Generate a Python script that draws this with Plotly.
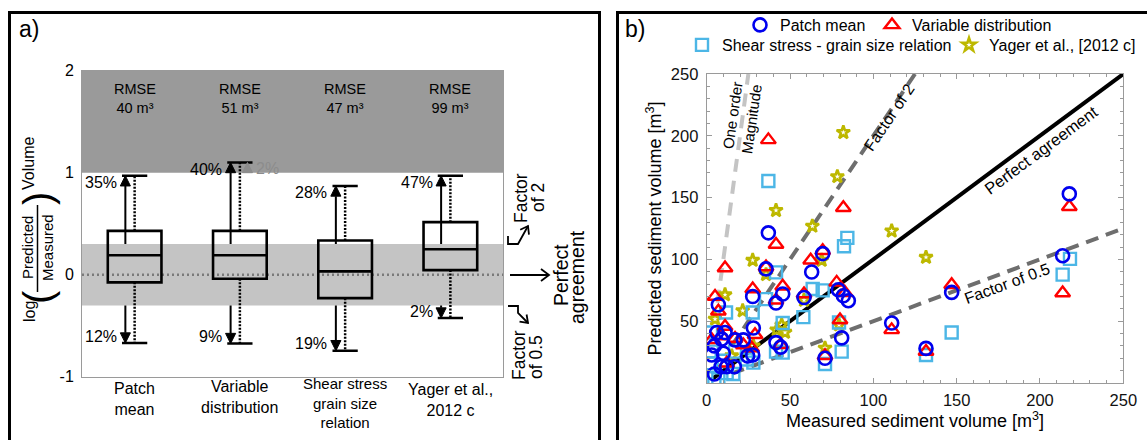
import plotly.graph_objects as go

W, H = 1147, 440
def PX(px): return px / W
def PY(py): return 1 - py / H

FONT = "Arial, Liberation Sans, sans-serif"

# ---------------- Panel a data ----------------
cat_pos = [0, 1, 2, 3]
cat_labels = ["Patch<br>mean", "Variable<br>distribution", "Shear stress<br>grain size<br>relation",
              "Yager et al.,<br>2012 c"]
cat_label_py = [399, 397, 403, 400]
cat_label_size = [16, 16, 15, 16]
rmse = [40, 51, 47, 99]
q1 = [-0.075, -0.04, -0.23, 0.045]
median = [0.19, 0.19, 0.033, 0.25]
q3 = [0.43, 0.43, 0.335, 0.515]
lower_fence = [-0.67, -0.675, -0.745, -0.425]
upper_fence = [0.97, 1.10, 0.87, 0.97]
pct_above_2 = ["35%", "40%", "28%", "47%"]
pct_below_half = ["12%", "9%", "19%", "2%"]
pct_above_10 = [None, "2%", None, None]
log2 = 0.30103

# ---------------- Panel b data ----------------
patch_x = [37, 79, 82, 85, 81, 111, 131.6, 147, 217.6, 213.6, 69.6, 63, 35.6, 45.6, 41.6, 27.6, 58.4, 7, 71,
           41.6, 44.4, 28, 27.6, 24.6, 6, 11, 9, 4.6, 3, 17, 22, 10, 8.6, 12, 16.6, 4.6]
patch_y = [121.5, 75.5, 70.6, 66.6, 36.5, 48.5, 28, 73.3, 153, 103, 104.7, 89.8, 92.3, 72, 64.7, 70, 69.2, 63.3, 20,
           32.7, 29, 44.5, 22.7, 21.9, 40.8, 40.8, 35.5, 30, 22.7, 34.9, 34.9, 24.1, 13.2, 13.2, 13.2, 7.3]
var_x = [37, 41.6, 82, 80, 111, 131.6, 147, 217.6, 213.6, 11, 62.4, 35.6, 78, 45.6, 27.6, 5, 7, 69.6, 3, 11,
         22, 27, 29, 71, 44.4, 83, 58.4, 41.6, 17, 9, 12]
var_y = [196.7, 112, 141.8, 51, 43, 25.5, 79.5, 142.6, 72.8, 93, 99.3, 93.9, 81.4, 78.2, 76, 70, 58, 107, 35, 45.7,
         30.8, 28.2, 39, 22, 31, 73, 72, 67, 36, 38, 16]
shear_x = [37, 84.4, 82.4, 81, 79.4, 131.6, 147, 218, 213.6, 41.6, 63.6, 69.6, 35.6, 11.6, 27.6, 58, 71, 45.6,
           41.6, 45.6, 28, 3, 3, 4.6, 7, 16, 17, 2.6, 9, 12, 24]
shear_y = [163.4, 117.4, 110.6, 25.4, 49, 22.7, 40.8, 100.4, 87.7, 89.5, 76, 74.9, 67.9, 57, 57, 53.3, 15.4, 48.5,
           25.4, 24.6, 16.5, 25.4, 16, 3.8, 3, 7.3, 25.4, 40.8, 18, 8, 19]
yager_x = [82, 78.4, 41.6, 63.4, 111, 131.6, 27.6, 69, 35.6, 11, 21.6, 5, 71, 45, 42, 47, 58.4, 79.4, 28, 15]
yager_y = [202.7, 167, 139.6, 126.9, 123, 101.7, 99.3, 99.3, 87.7, 71.4, 58.5, 51.7, 28.2, 47, 43, 41, 67, 47, 30, 22]

ref_ratio = [10, 2, 1, 0.5]
ref_xstart = [6.5, 15, 3, 15]
ref_xend = [25, 125, 250, 250]
ref_color = ["#c4c4c4", "#6e6e6e", "#000000", "#6e6e6e"]
ref_dash = ["13px,9px", "13px,8px", "solid", "13px,8px"]

fig = go.Figure()

# ---------------- Panel a traces ----------------
fig.add_trace(go.Box(
    x=cat_pos, q1=q1, median=median, q3=q3, lowerfence=q1, upperfence=q3,
    width=0.51, whiskerwidth=0, fillcolor="rgba(0,0,0,0)",
    line=dict(color="black", width=2.6), xaxis="x", yaxis="y", showlegend=False,
    boxpoints=False, hoverinfo="skip"))

wx, wy, cx_, cy_ = [], [], [], []
for i, c in enumerate(cat_pos):
    wx += [c, c, None, c, c, None]
    wy += [q3[i], upper_fence[i], None, q1[i], lower_fence[i], None]
    cx_ += [c - 0.12, c + 0.12, None, c - 0.12, c + 0.12, None]
    cy_ += [upper_fence[i], upper_fence[i], None, lower_fence[i], lower_fence[i], None]
fig.add_trace(go.Scatter(x=wx, y=wy, mode="lines", line=dict(color="black", width=2.5, dash="2px,1.5px"),
                         xaxis="x", yaxis="y", showlegend=False, hoverinfo="skip"))
fig.add_trace(go.Scatter(x=cx_, y=cy_, mode="lines", line=dict(color="black", width=2.5),
                         xaxis="x", yaxis="y", showlegend=False, hoverinfo="skip"))

# ---------------- Panel b traces ----------------
for r, xs, xe, col, dash in zip(ref_ratio, ref_xstart, ref_xend, ref_color, ref_dash):
    fig.add_trace(go.Scatter(x=[xs, xe], y=[r * xs, r * xe], mode="lines",
                             line=dict(color=col, width=4, dash=dash),
                             xaxis="x2", yaxis="y2", showlegend=False, hoverinfo="skip"))

fig.add_trace(go.Scatter(x=yager_x, y=yager_y, mode="markers", name="Yager et al., [2012 c]",
                         marker=dict(symbol="star-open", size=10, color="#bdb800", line=dict(width=2.6)),
                         xaxis="x2", yaxis="y2", legend="legend2", legendrank=2, legendwidth=160))
fig.add_trace(go.Scatter(x=shear_x, y=shear_y, mode="markers", name="Shear stress - grain size relation",
                         marker=dict(symbol="square-open", size=12, color="#4cb6e6", line=dict(width=2.4)),
                         xaxis="x2", yaxis="y2", legend="legend2", legendrank=1, legendwidth=222))
fig.add_trace(go.Scatter(x=var_x, y=var_y, mode="markers", name="Variable distribution",
                         marker=dict(symbol="triangle-up-open", size=13, color="#ff0000", line=dict(width=2.4)),
                         xaxis="x2", yaxis="y2", legend="legend", legendrank=2, legendwidth=150))
fig.add_trace(go.Scatter(x=patch_x, y=patch_y, mode="markers", name="Patch mean",
                         marker=dict(symbol="circle-open", size=13, color="#0000ee", line=dict(width=2.6)),
                         xaxis="x2", yaxis="y2", legend="legend", legendrank=1, legendwidth=87))

shapes = []
# bands in panel a
shapes.append(dict(type="rect", xref="x domain", yref="y", x0=0, x1=1, y0=1, y1=2,
                   fillcolor="#9a9a9a", line=dict(width=0), layer="below"))
shapes.append(dict(type="rect", xref="x domain", yref="y", x0=0, x1=1, y0=-log2, y1=log2,
                   fillcolor="#c4c4c4", line=dict(width=0), layer="below"))
shapes.append(dict(type="line", xref="x domain", yref="y", x0=0, x1=1, y0=0, y1=0,
                   line=dict(color="#7a7a7a", width=2.5, dash="2px,3px"), layer="below"))
# panel frames
shapes.append(dict(type="rect", xref="paper", yref="paper", x0=PX(9.5), x1=PX(599.5), y0=-0.2, y1=PY(12.5),
                   line=dict(color="black", width=3)))
shapes.append(dict(type="rect", xref="paper", yref="paper", x0=PX(617.5), x1=1.2, y0=-0.2, y1=PY(12.5),
                   line=dict(color="black", width=3)))
# fraction bar of y title
shapes.append(dict(type="line", xref="paper", yref="paper", x0=PX(37.5), x1=PX(37.5), y0=PY(292), y1=PY(205),
                   line=dict(color="black", width=1.5)))

# data-space arrows (line + filled head) for the box panel
HEAD_HW = 0.048   # half width of arrow head in category units (~5 px)
HEAD_LEN = 0.10   # head length in log units (~10 px)
def data_arrow(x, y_tail, y_tip, color):
    s = 1 if y_tip > y_tail else -1
    base = y_tip - s * HEAD_LEN
    shapes.append(dict(type="line", xref="x", yref="y", x0=x, x1=x, y0=y_tail, y1=base,
                       line=dict(color=color, width=2)))
    shapes.append(dict(type="path", xref="x", yref="y",
                       path=f"M {x - HEAD_HW},{base} L {x + HEAD_HW},{base} L {x},{y_tip} Z",
                       fillcolor=color, line=dict(color=color, width=1)))

# pixel-space polyline arrows with open heads for the right margin of panel a
def pix_arrow(points, head=7, spread=5):
    d = "M " + " L ".join(f"{PX(px)},{PY(py)}" for px, py in points)
    shapes.append(dict(type="path", xref="paper", yref="paper", path=d, line=dict(color="black", width=1.8)))
    (x0, y0), (x1, y1) = points[-2], points[-1]
    L = ((x1 - x0) ** 2 + (y1 - y0) ** 2) ** 0.5
    ux, uy = (x1 - x0) / L, (y1 - y0) / L
    bx, by = x1 - head * ux, y1 - head * uy
    a1 = (bx + spread * uy, by - spread * ux)
    a2 = (bx - spread * uy, by + spread * ux)
    shapes.append(dict(type="path", xref="paper", yref="paper",
                       path=f"M {PX(a1[0])},{PY(a1[1])} L {PX(x1)},{PY(y1)} L {PX(a2[0])},{PY(a2[1])}",
                       line=dict(color="black", width=1.8)))

pix_arrow([(508, 236), (508, 244), (518, 244), (528, 226)])
pix_arrow([(508, 306), (518, 306), (518, 313), (528, 323)])
pix_arrow([(510, 275), (549, 275)], head=8, spread=6)

ann = []
def text(x, y, t, size=16, color="black", xref="paper", yref="paper", angle=0, xanchor="center",
         yanchor="middle", align="center"):
    ann.append(dict(x=x, y=y, xref=xref, yref=yref, text=t, showarrow=False, textangle=angle,
                    font=dict(size=size, color=color, family=FONT), xanchor=xanchor, yanchor=yanchor,
                    align=align))

text(PX(17), PY(29), "a)", size=23, xanchor="left")
text(PX(623), PY(29), "b)", size=23, xanchor="left")

for i, c in enumerate(cat_pos):
    text(c, PY(98.5), f"RMSE<br>{rmse[i]} m³", size=14.5, xref="x")
    text(c, PY(cat_label_py[i]), cat_labels[i], size=cat_label_size[i], xref="x")
    ax_x = c - 0.088
    data_arrow(ax_x, log2, upper_fence[i], "black")
    data_arrow(ax_x, -log2, lower_fence[i], "black")
    text(c - 0.15, upper_fence[i] - 0.068, pct_above_2[i], xref="x", yref="y", xanchor="right")
    text(c - 0.15, lower_fence[i] + 0.068, pct_below_half[i], xref="x", yref="y", xanchor="right")
    if pct_above_10[i]:
        data_arrow(c + 0.072, 1.0, upper_fence[i], "#8c8c8c")
        text(c + 0.13, upper_fence[i] - 0.055, pct_above_10[i], xref="x", yref="y", xanchor="left",
             color="#8c8c8c")

# y-title of panel a
text(PX(28), PY(164), "Volume", size=16, angle=-90)
text(PX(29), PY(312), "log", size=16, angle=-90)
text(PX(28), PY(248), "Predicted", size=15, angle=-90)
text(PX(48), PY(248), "Measured", size=15, angle=-90)
text(PX(38), PY(297), "(", size=40, angle=-90)
text(PX(38), PY(199), ")", size=40, angle=-90)

# right side of panel a
text(PX(521), PY(198), "Factor", size=17.5, angle=-90)
text(PX(538), PY(198), "of 2", size=17.5, angle=-90)
text(PX(519), PY(355), "Factor", size=17.5, angle=-90)
text(PX(536), PY(357), "of 0.5", size=17.5, angle=-90)
text(PX(561), PY(275), "Perfect", size=19.5, angle=-90)
text(PX(577), PY(277), "agreement", size=19.5, angle=-90)

# panel b texts
text(PX(732), PY(115), "One order", size=15, angle=-82)
text(PX(751), PY(119), "Magnitude", size=15, angle=-82)
text(PX(890), PY(117), "Factor of 2", size=16, angle=-56)
text(PX(1041), PY(150), "Perfect agreement", size=16.5, angle=-36.5)
text(PX(1007), PY(283), "Factor of 0.5", size=16, angle=-20.3)

axis_gray = "#9a9a9a"
fig.update_layout(
    width=W, height=H, autosize=False,
    margin=dict(l=0, r=0, t=0, b=0, pad=0, autoexpand=False),
    paper_bgcolor="white", plot_bgcolor="rgba(0,0,0,0)",
    font=dict(family=FONT, color="black"),
    xaxis=dict(domain=[PX(82), PX(503)], range=[-0.5, 3.5], showticklabels=False, ticks="",
               showgrid=False, zeroline=False, showline=True, linecolor=axis_gray, linewidth=1, mirror=True),
    yaxis=dict(domain=[PY(376.7), PY(70.7)], range=[-1, 2], tickvals=[-1, 0, 1, 2], ticktext=["-1", "0", "1", "2"],
               ticks="", showgrid=False, zeroline=False, showline=True, linecolor=axis_gray, linewidth=1,
               mirror=True, tickfont=dict(size=16, color="black"), ticklabelstandoff=4),
    xaxis2=dict(domain=[PX(706.7), PX(1123.3)], range=[0, 250], tickvals=[0, 50, 100, 150, 200, 250],
                ticks="inside", ticklen=5, tickcolor=axis_gray, showgrid=False, zeroline=False,
                showline=True, linecolor=axis_gray, linewidth=1, mirror="allticks",
                minor=dict(dtick=10, ticks="inside", ticklen=3, tickcolor=axis_gray),
                tickfont=dict(size=16.5, color="#111"), ticklabelstandoff=2, anchor="y2",
                title=dict(text="Measured sediment volume [m<sup>3</sup>]", font=dict(size=18, color="black"),
                           standoff=4)),
    yaxis2=dict(domain=[PY(383), PY(74)], range=[0, 250], tickvals=[50, 100, 150, 200, 250],
                ticks="inside", ticklen=5, tickcolor=axis_gray, showgrid=False, zeroline=False,
                showline=True, linecolor=axis_gray, linewidth=1, mirror="allticks",
                minor=dict(dtick=10, ticks="inside", ticklen=3, tickcolor=axis_gray),
                tickfont=dict(size=16.5, color="#111"), ticklabelstandoff=4, anchor="x2",
                title=dict(text="Predicted sediment volume [m<sup>3</sup>]", font=dict(size=18, color="black"),
                           standoff=4)),
    legend=dict(orientation="h", x=PX(740), y=PY(25), xanchor="left", yanchor="middle",
                font=dict(size=16, family=FONT), bgcolor="rgba(0,0,0,0)",
                itemclick=False, itemdoubleclick=False),
    legend2=dict(orientation="h", x=PX(682), y=PY(45), xanchor="left", yanchor="middle",
                 font=dict(size=16, family=FONT), bgcolor="rgba(0,0,0,0)",
                 itemclick=False, itemdoubleclick=False),
    shapes=shapes, annotations=ann,
)

fig.write_html("out.html")
